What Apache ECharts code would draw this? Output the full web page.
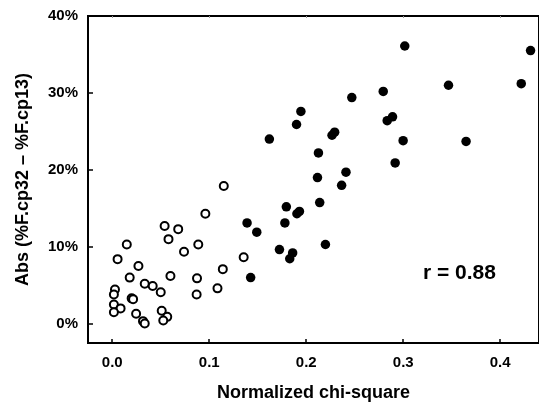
<!DOCTYPE html>
<html>
<head>
<meta charset="utf-8">
<script src="https://cdn.jsdelivr.net/npm/echarts@6/dist/echarts.min.js"></script>
<style>
  html, body { margin: 0; padding: 0; background: #fff; }
  #chart { width: 539px; height: 410px; }
</style>
</head>
<body>
<div id="chart"></div>
<script>
// 低拟合组（空心圆）: [normalized chi-square, abs diff %]
const openPoints = [
  [0.054, 12.7], [0.068, 12.3], [0.058, 11.0], [0.074, 9.35], [0.015, 10.3],
  [0.0055, 8.4], [0.027, 7.5], [0.018, 6.0], [0.060, 6.2], [0.0335, 5.2],
  [0.0417, 4.9], [0.050, 4.1], [0.0028, 4.45], [0.0017, 3.8], [0.020, 3.3],
  [0.0215, 3.2], [0.0017, 2.5], [0.0086, 2.0], [0.0017, 1.5], [0.0246, 1.3],
  [0.051, 1.7], [0.0567, 0.9], [0.0526, 0.43], [0.0317, 0.34], [0.0335, 0.04],
  [0.115, 17.9], [0.096, 14.3], [0.0887, 10.3], [0.1355, 8.65], [0.114, 7.1],
  [0.0874, 5.9], [0.1085, 4.6], [0.087, 3.8]
]

// 高拟合组（实心圆）
const filledPoints = [
  [0.139, 13.1], [0.149, 11.9], [0.1427, 6.0], [0.247, 29.4], [0.1945, 27.6],
  [0.190, 25.9], [0.162, 24.0], [0.2266, 24.5], [0.2293, 24.9], [0.2126, 22.2],
  [0.2116, 19.0], [0.241, 19.7], [0.2365, 18.0], [0.2139, 15.75], [0.1795, 15.2],
  [0.1904, 14.3], [0.193, 14.6], [0.178, 13.1], [0.2198, 10.3], [0.1724, 9.65],
  [0.186, 9.2], [0.183, 8.45], [0.3016, 36.1], [0.4313, 35.5], [0.3467, 31.0],
  [0.4217, 31.2], [0.2794, 30.2], [0.2835, 26.4], [0.289, 26.9], [0.2999, 23.8],
  [0.3648, 23.7], [0.2917, 20.9]
]

const xTicks = [0, 0.1, 0.2, 0.3, 0.4]
const yTicks = [0, 10, 20, 30, 40]
const rLabel = 'r = 0.88'

const FONT = '"Liberation Sans", Arial, sans-serif'
const INK = '#000'

const chart = echarts.init(document.getElementById('chart'), null, { renderer: 'canvas' })

const option = {
  animation: false,
  backgroundColor: '#fff',
  grid: {
    left: 88,
    top: 16,
    width: 454,
    bottom: 67,
    show: true,
    borderColor: INK,
    borderWidth: 2,
    backgroundColor: 'transparent'
  },
  xAxis: [{
    type: 'value',
    position: 'bottom',
    min: -0.025,
    max: 0.44,
    name: 'Normalized chi-square',
    nameLocation: 'middle',
    nameGap: 41,
    nameTextStyle: { fontFamily: FONT, fontWeight: 'bold', fontSize: 18, color: INK },
    axisLine: { show: true, onZero: false, lineStyle: { color: INK, width: 2 } },
    axisTick: { show: true, inside: true, length: 4, customValues: xTicks, lineStyle: { color: INK, width: 1.5 } },
    axisLabel: {
      customValues: xTicks,
      margin: 12,
      fontFamily: FONT,
      fontWeight: 'bold',
      fontSize: 15,
      color: INK,
      formatter: v => v.toFixed(1)
    },
    splitLine: { show: false }
  }, {
    // 顶部边框刻度
    type: 'value',
    position: 'top',
    min: -0.025,
    max: 0.44,
    axisLine: { show: true, onZero: false, lineStyle: { color: INK, width: 2 } },
    axisTick: { show: true, inside: true, length: 2, customValues: xTicks, lineStyle: { color: '#999', width: 1 } },
    axisLabel: { show: false },
    splitLine: { show: false }
  }],
  yAxis: {
    type: 'value',
    min: -2.5,
    max: 40,
    name: 'Abs (%F.cp32 \u2013 %F.cp13)',
    nameLocation: 'middle',
    nameGap: 56,
    nameTextStyle: { fontFamily: FONT, fontWeight: 'bold', fontSize: 18, color: INK },
    axisLine: { show: true, onZero: false, lineStyle: { color: INK, width: 2 } },
    axisTick: { show: true, inside: true, length: 5, customValues: yTicks, lineStyle: { color: INK, width: 1.5 } },
    axisLabel: {
      customValues: yTicks,
      margin: 10,
      fontFamily: FONT,
      fontWeight: 'bold',
      fontSize: 15,
      color: INK,
      formatter: v => v + '%'
    },
    splitLine: { show: false }
  },
  series: [{
    type: 'scatter',
    data: openPoints,
    symbol: 'circle',
    symbolSize: 8,
    itemStyle: { color: '#fff', borderColor: INK, borderWidth: 2, opacity: 1 }
  }, {
    type: 'scatter',
    data: filledPoints,
    symbol: 'circle',
    symbolSize: 9.5,
    itemStyle: { color: INK, opacity: 1 }
  }],
  graphic: [{
    type: 'text',
    left: 423,
    top: 263,
    style: {
      text: rLabel,
      fontFamily: FONT,
      fontWeight: 'bold',
      fontSize: 21,
      fill: INK
    }
  }]
}

chart.setOption(option)
</script>
</body>
</html>
